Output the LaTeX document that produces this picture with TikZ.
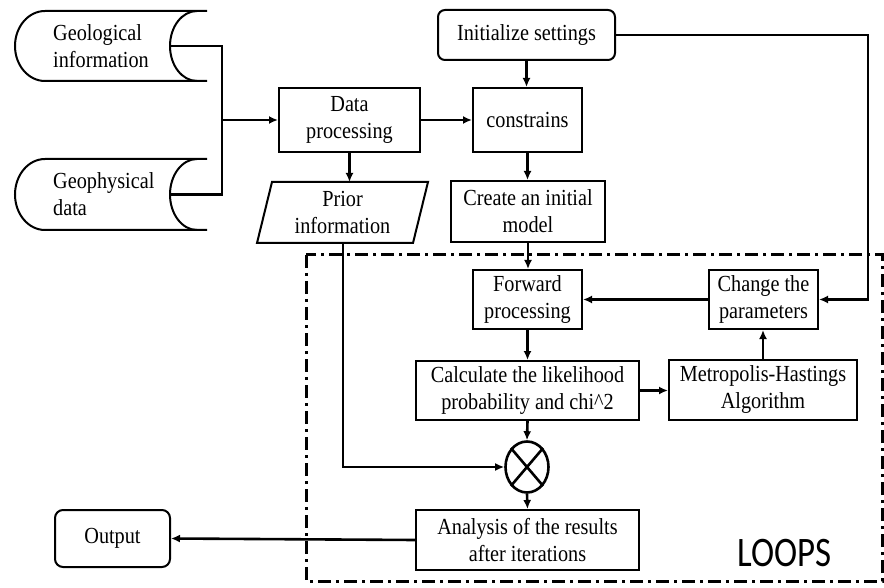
\documentclass[tikz,border=0pt]{standalone}
\usepackage{fontspec}
\setmainfont{Liberation Serif}[FakeStretch=0.88]
\newfontfamily\loopsfont{Carlito}[FakeStretch=0.83]
\usetikzlibrary{arrows.meta,shapes.geometric}
\begin{document}
\begin{tikzpicture}[x=1pt,y=-1pt,
  txt/.style={font=\fontsize{23}{27}\selectfont},
  pbox/.style={draw,line width=2pt,align=center,inner sep=0pt,txt},
  lbl/.style={align=center,inner sep=0pt,txt},
  conn/.style={line width=2.6pt},
  arr/.style={line width=2.6pt,-{Latex[length=9pt,width=8pt]}},
  loopline/.style={line width=3pt,dash pattern=on 13pt off 5pt on 3pt off 5pt},
  store/.style={line width=2pt}]
\useasboundingbox (0,0) rectangle (884,588);

% storage shapes
\draw[store] (207,11) -- (45,11) arc[start angle=90,end angle=270,x radius=30pt,y radius=35pt] -- (207,81);
\draw[store] (197,11) arc[start angle=90,end angle=270,x radius=27pt,y radius=35pt];
\node[lbl,anchor=west,align=left] (geo1) at (53,46) {Geological\\information};
\coordinate (g1r) at (170,46);

\draw[store] (207,159) -- (45,159) arc[start angle=90,end angle=270,x radius=30pt,y radius=35.5pt] -- (207,230);
\draw[store] (197,159) arc[start angle=90,end angle=270,x radius=27pt,y radius=35.5pt];
\node[lbl,anchor=west,align=left] (geo2) at (53,194.5) {Geophysical\\data};
\coordinate (g2r) at (170,194.5);

% boxes
\node[pbox,minimum width=141pt,minimum height=64pt] (dp) at (349.5,120) {Data\\processing};
\node[pbox,minimum width=109pt,minimum height=64pt] (con) at (527.5,120) {constrains};
\node[pbox,rounded corners=7pt,minimum width=177pt,minimum height=50pt] (init) at (526.5,35) {Initialize settings};
\node[pbox,minimum width=154pt,minimum height=61pt] (create) at (528,211.5) {Create an initial\\model};
\node[pbox,minimum width=109pt,minimum height=59pt] (fwd) at (527.5,299.5) {Forward\\processing};
\node[pbox,minimum width=109pt,minimum height=59pt] (chg) at (763.5,299.5) {Change the\\parameters};
\node[pbox,minimum width=223pt,minimum height=59pt] (calc) at (527.5,390.5) {Calculate the likelihood\\probability and chi\textasciicircum{}2};
\node[pbox,minimum width=188pt,minimum height=60pt] (mh) at (763,390) {Metropolis-Hastings\\Algorithm};
\node[pbox,minimum width=223pt,minimum height=60pt] (ana) at (527.5,540) {Analysis of the results\\after iterations};
\node[pbox,rounded corners=8pt,minimum width=115pt,minimum height=57pt] (out) at (112.5,538.5) {Output};

% prior information parallelogram
\draw[store] (272,182) -- (428,182) -- (413,243) -- (257,243) -- cycle;
\node[lbl] (prior) at (342.5,212.5) {Prior\\information};
\coordinate (priortop) at (349.5,182);
\coordinate (priorbot) at (343,243);

% multiplication node
\node[ellipse,draw,line width=2.6pt,minimum width=43pt,minimum height=51pt,inner sep=0pt] (mult) at (527,467) {};
\draw[line width=2.6pt] (mult.north east) -- (mult.south west) (mult.north west) -- (mult.south east);

% connectors
\coordinate (jx) at (222,120);
\draw[conn] (g1r) -| (jx);
\draw[conn] (g2r) -| (jx);
\draw[arr] (jx) -- (dp.west);
\draw[arr] (dp.east) -- (con.west);
\draw[arr] (init.south) -- (init.south |- con.north);
\draw[arr] (dp.south) -- (priortop);
\draw[arr] (con.south) -- (con.south |- create.north);
\draw[arr] (create.south) -- (create.south |- fwd.north);
\draw[arr] (fwd.south) -- (calc.north);
\draw[arr] (calc.east) -- (calc.east -| mh.west);
\draw[arr] (mh.north) -- (mh.north |- chg.south);
\draw[arr] (chg.west) -- (fwd.east);
\coordinate (rt) at (868,35);
\draw[arr] (init.east) -- (rt) |- (chg.east);
\draw[arr] (calc.south) -- (mult.north);
\draw[arr] (mult.south) -- (ana.north);
\draw[arr] (priorbot) |- (mult.west);
\draw[arr] (ana.west) -- (out.east);

% loop region
\draw[loopline] (306,255) rectangle (882,581);
\node[inner sep=0pt,font=\loopsfont\fontsize{42}{42}\selectfont] (loops) at (784.5,553.5) {LOOPS};
\end{tikzpicture}
\end{document}
